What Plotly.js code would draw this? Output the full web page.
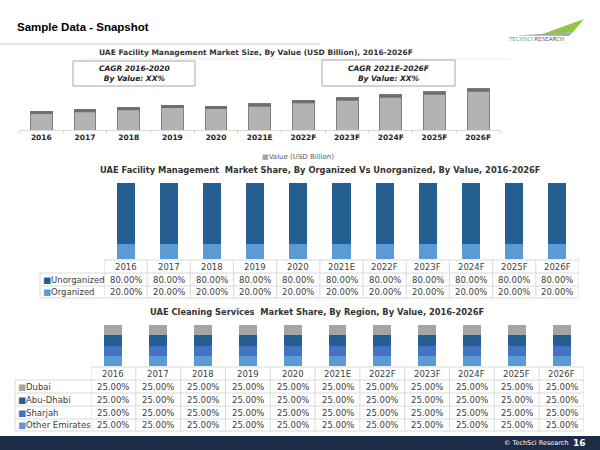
<!DOCTYPE html>
<html><head><meta charset="utf-8">
<script src="https://cdn.plot.ly/plotly-3.0.1.min.js"></script>
<style>html,body{margin:0;padding:0;background:#fff}#chart{width:600px;height:450px}</style>
</head><body><div id="chart"></div>
<script>
// ---- data ----
const years = ['2016','2017','2018','2019','2020','2021E','2022F','2023F','2024F','2025F','2026F'];
const marketSize = [1.9, 2.07, 2.27, 2.5, 2.4, 2.63, 2.97, 3.23, 3.53, 3.83, 4.13];
const unorganized = [80,80,80,80,80,80,80,80,80,80,80];
const organized = [20,20,20,20,20,20,20,20,20,20,20];
const dubai = [25,25,25,25,25,25,25,25,25,25,25];
const abuDhabi = [25,25,25,25,25,25,25,25,25,25,25];
const sharjah = [25,25,25,25,25,25,25,25,25,25,25];
const otherEmirates = [25,25,25,25,25,25,25,25,25,25,25];
const cagrTexts = ['CAGR 2016-2020<br>By Value: XX%', 'CAGR 2021E-2026F<br>By Value: XX%'];
const pageTitle = 'Sample Data - Snapshot';
const title1 = 'UAE Facility Management Market Size, By Value (USD Billion), 2016-2026F';
const title2 = 'UAE Facility Management  Market Share, By Organized Vs Unorganized, By Value, 2016-2026F';
const title3 = 'UAE Cleaning Services  Market Share, By Region, By Value, 2016-2026F';

// ---- helpers ----
const W = 600, H = 450;
const px = x => x / W;
const py = y => 1 - y / H;
const FONT = 'DejaVu Sans';
const C = {grey:'#b3b3b3', unorg:'#255e91', org:'#5b9bd5', dubai:'#a5a5a5', abu:'#255e91', sharjah:'#4472c4', other:'#5b9bd5', grid:'#d9d9d9', text:'#404040'};
const fmt = v => v.toFixed(2) + '%';

const traces = [
  {type:'bar', x: years, y: marketSize, xaxis:'x', yaxis:'y', width:0.5,
   marker:{color:C.grey, line:{color:'#808080', width:1}}, showlegend:false, hoverinfo:'skip'},
  {type:'bar', x: years, y: organized, xaxis:'x2', yaxis:'y2', width:0.42, marker:{color:C.org}, showlegend:false, hoverinfo:'skip'},
  {type:'bar', x: years, y: unorganized, xaxis:'x2', yaxis:'y2', width:0.42, marker:{color:C.unorg}, showlegend:false, hoverinfo:'skip'},
  {type:'bar', x: years, y: otherEmirates, xaxis:'x3', yaxis:'y3', width:0.4, marker:{color:C.other}, showlegend:false, hoverinfo:'skip'},
  {type:'bar', x: years, y: sharjah, xaxis:'x3', yaxis:'y3', width:0.4, marker:{color:C.sharjah}, showlegend:false, hoverinfo:'skip'},
  {type:'bar', x: years, y: abuDhabi, xaxis:'x3', yaxis:'y3', width:0.4, marker:{color:C.abu}, showlegend:false, hoverinfo:'skip'},
  {type:'bar', x: years, y: dubai, xaxis:'x3', yaxis:'y3', width:0.4, marker:{color:C.dubai}, showlegend:false, hoverinfo:'skip'}
];

const shapes = [];
const annotations = [];
const line = (x0,y0,x1,y1,xref,color,w) => shapes.push({type:'line', xref:xref||'paper', yref:'paper', x0, y0, x1, y1, line:{color:color||C.grid, width:w||1}});

// header
annotations.push({xref:'paper', yref:'paper', x:px(15), y:py(27), xanchor:'left', yanchor:'middle', showarrow:false,
  text:'<b>'+pageTitle+'</b>', font:{family:'Liberation Sans', size:11.5, color:'#000'}});
line(0, py(44), px(320), py(44), 'paper', '#c8c8c8', 1);
line(px(83), py(59), px(510), py(59), 'paper', '#ececec', 1);

// logo
shapes.push({type:'path', xref:'paper', yref:'paper', path:`M ${px(540)},${py(35)} L ${px(584)},${py(19)} L ${px(573)},${py(32)} Z`, fillcolor:'#8dc63f', line:{width:0}});
shapes.push({type:'path', xref:'paper', yref:'paper', path:`M ${px(515)},${py(35.5)} L ${px(573)},${py(32)} L ${px(569)},${py(36)} Z`, fillcolor:'#a3abae', line:{width:0}});
annotations.push({xref:'paper', yref:'paper', x:px(536), y:py(38.5), xanchor:'center', yanchor:'middle', showarrow:false,
  text:'<span style="color:#3aa38f">TECHSCI</span> <span style="color:#555">RESEARCH</span>', font:{family:FONT, size:5.5, color:'#555'}});

// top chart
annotations.push({xref:'paper', yref:'paper', x:px(256), y:py(53), xanchor:'center', yanchor:'middle', showarrow:false,
  text:'<b>'+title1+'</b>', font:{family:FONT, size:7.5, color:'#333'}});
const boxes = [[73,195,61,86],[322,455,60,86]];
boxes.forEach((b,i) => {
  shapes.push({type:'rect', xref:'paper', yref:'paper', x0:px(b[0]), x1:px(b[1]), y0:py(b[3]), y1:py(b[2]), fillcolor:'#fff', line:{color:'#a6a6a6', width:1}});
  annotations.push({xref:'paper', yref:'paper', x:px((b[0]+b[1])/2), y:py((b[2]+b[3])/2), xanchor:'center', yanchor:'middle', showarrow:false,
    text:'<b><i>'+cagrTexts[i]+'</i></b>', font:{family:FONT, size:7.5, color:'#222'}});
});
marketSize.forEach((v,i) => {
  shapes.push({type:'rect', xref:'x', yref:'y', x0:i-0.25, x1:i+0.25, y0:v-0.3, y1:v, fillcolor:'#6e6e6e', line:{width:0}});
});
annotations.push({xref:'paper', yref:'paper', x:px(298), y:py(157), xanchor:'center', yanchor:'middle', showarrow:false,
  text:'<span style="color:#a5a5a5">■</span>Value (USD Billion)', font:{family:FONT, size:7, color:'#595959'}});

// middle chart
annotations.push({xref:'paper', yref:'paper', x:px(320), y:py(170), xanchor:'center', yanchor:'middle', showarrow:false,
  text:'<b>'+title2+'</b>', font:{family:FONT, size:8.3, color:'#333'}});
function table(xref, rowsY, labelLeft, colLeftPx, rows) {
  const n = years.length;
  const top = rowsY[0], bottom = rowsY[rowsY.length-1];
  rowsY.forEach((y,k) => {
    shapes.push({type:'line', xref:xref, yref:'paper', x0:-0.5, x1:n-0.5, y0:py(y), y1:py(y), line:{color:C.grid, width:1}});
    if (k>0) line(px(labelLeft), py(y), px(colLeftPx), py(y));
  });
  for (let i=0;i<=n;i++) shapes.push({type:'line', xref:xref, yref:'paper', x0:i-0.5, x1:i-0.5, y0:py(top), y1:py(bottom), line:{color:C.grid, width:1}});
  line(px(labelLeft), py(rowsY[1]), px(labelLeft), py(bottom));
  years.forEach((yr,i) => annotations.push({xref:xref, yref:'paper', x:i, y:py((rowsY[0]+rowsY[1])/2), xanchor:'center', yanchor:'middle', showarrow:false,
    text:yr, font:{family:FONT, size:8.5, color:C.text}}));
  rows.forEach((r,k) => {
    const yc = py((rowsY[k+1]+rowsY[k+2])/2);
    annotations.push({xref:'paper', yref:'paper', x:px(labelLeft+1), y:yc, xanchor:'left', yanchor:'middle', showarrow:false,
      text:'<span style="color:'+r.color+'">■</span>'+r.name, font:{family:FONT, size:8.5, color:C.text}});
    r.values.forEach((v,i) => annotations.push({xref:xref, yref:'paper', x:i, y:yc, xanchor:'center', yanchor:'middle', showarrow:false,
      text:fmt(v), font:{family:FONT, size:8.5, color:C.text}}));
  });
}
table('x2', [260,273,286,298], 40, 104, [
  {name:'Unorganized', color:C.unorg, values:unorganized},
  {name:'Organized', color:C.org, values:organized}
]);

// bottom chart
annotations.push({xref:'paper', yref:'paper', x:px(317), y:py(312), xanchor:'center', yanchor:'middle', showarrow:false,
  text:'<b>'+title3+'</b>', font:{family:FONT, size:8.3, color:'#333'}});
table('x3', [367,380,393,406,419,431], 15, 91, [
  {name:'Dubai', color:C.dubai, values:dubai},
  {name:'Abu-Dhabi', color:C.abu, values:abuDhabi},
  {name:'Sharjah', color:C.sharjah, values:sharjah},
  {name:'Other Emirates', color:C.other, values:otherEmirates}
]);

// footer
shapes.push({type:'rect', xref:'paper', yref:'paper', x0:0, x1:1, y0:0, y1:py(436), fillcolor:'#1b2b48', line:{width:0}, layer:'above'});
annotations.push({xref:'paper', yref:'paper', x:px(571), y:py(443), xanchor:'right', yanchor:'middle', showarrow:false,
  text:'© TechSci Research', font:{family:FONT, size:6.5, color:'#fff'}});
annotations.push({xref:'paper', yref:'paper', x:px(588), y:py(443), xanchor:'right', yanchor:'middle', showarrow:false,
  text:'<b>16</b>', font:{family:FONT, size:9, color:'#fff'}});

const hidden = {visible:false, fixedrange:true};
const layout = {
  width: W, height: H, margin:{l:0,r:0,t:0,b:0}, paper_bgcolor:'#fff', plot_bgcolor:'rgba(0,0,0,0)',
  barmode:'stack', showlegend:false,
  xaxis:{domain:[px(19.5), px(500)], type:'category', range:[-0.5,10.5], anchor:'y', showline:true, linecolor:'#d9d9d9', linewidth:1,
    ticks:'outside', tickson:'boundaries', ticklen:3, tickcolor:'#d9d9d9', tickfont:{family:FONT, size:7.5, weight:'bold', color:'#262626'}, fixedrange:true, showgrid:false},
  yaxis:Object.assign({domain:[py(130), py(60)], range:[0,7]}, hidden),
  xaxis2:Object.assign({domain:[px(104), px(579)], type:'category', range:[-0.5,10.5], anchor:'y2'}, hidden),
  yaxis2:Object.assign({domain:[py(259), py(183)], range:[0,100]}, hidden),
  xaxis3:Object.assign({domain:[px(91), px(584)], type:'category', range:[-0.5,10.5], anchor:'y3'}, hidden),
  yaxis3:Object.assign({domain:[py(366), py(325)], range:[0,100]}, hidden),
  shapes, annotations
};
Plotly.newPlot('chart', traces, layout, {displayModeBar:false, staticPlot:true});
</script></body></html>
